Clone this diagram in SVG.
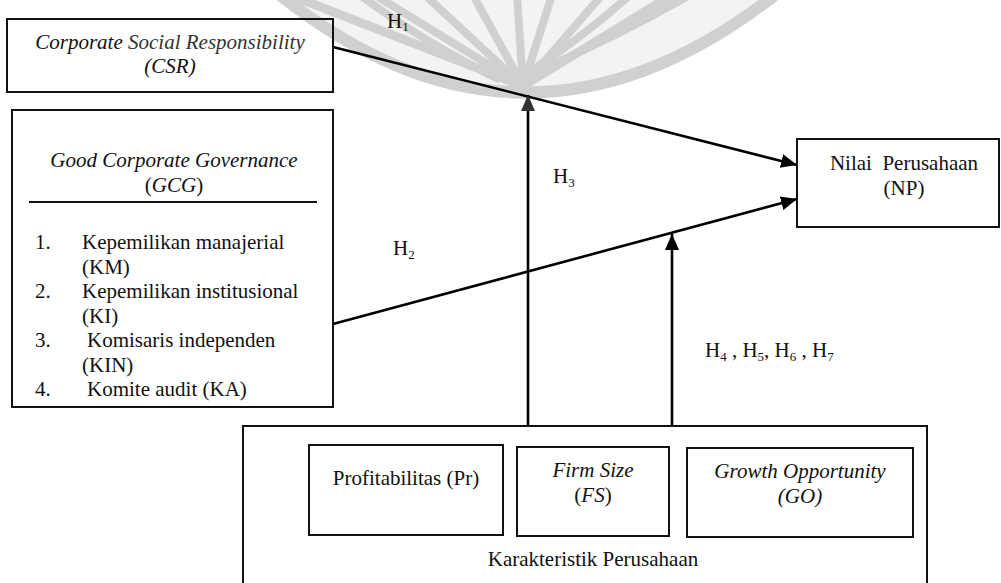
<svg xmlns="http://www.w3.org/2000/svg" width="1001" height="583" viewBox="0 0 1001 583">
  <style>
    text { font-family: "Liberation Serif", serif; font-size: 21px; fill: #111; }
    .it { font-style: italic; }
    .mid { text-anchor: middle; }
    .box { fill: none; stroke: #111; stroke-width: 2; }
    .conn { fill: none; stroke: #000; stroke-width: 2.6; }
    .wm { fill: none; stroke: #d0d0d0; stroke-linecap: butt; }
    .sub { font-size: 13px; }
  </style>
  <defs>
    <marker id="arrow" markerUnits="userSpaceOnUse" markerWidth="18" markerHeight="16" refX="16" refY="7" orient="auto">
      <path d="M0,0 L16,7 L0,14 z" fill="#000"/>
    </marker>
    <marker id="arrowGray" markerUnits="userSpaceOnUse" markerWidth="18" markerHeight="16" refX="16" refY="7" orient="auto">
      <path d="M0,0 L16,7 L0,14 z" fill="#333"/>
    </marker>
  </defs>
  <rect width="1001" height="583" fill="#fff"/>

  <g id="watermark">
    <path d="M 280 -5 Q 525 190 775 -5 Z" fill="#f3f3f3"/>
    <path class="wm" stroke-width="12" d="M 280 -5 Q 525 190 775 -5"/>
    <path class="wm" stroke-width="9" d="M 523 86 L 290 -5"/>
    <path class="wm" stroke-width="8" d="M 523 86 L 375 -5"/>
    <path class="wm" stroke-width="8" d="M 523 86 L 425 -5"/>
    <path class="wm" stroke-width="8" d="M 523 86 L 473 -5"/>
    <path class="wm" stroke-width="8" d="M 523 86 L 517 -5"/>
    <path class="wm" stroke-width="8" d="M 523 86 L 552 -5"/>
    <path class="wm" stroke-width="8" d="M 523 86 L 602 -5"/>
    <path class="wm" stroke-width="9" d="M 523 86 L 672 -5"/>
    <path class="wm" stroke-width="8" d="M 520 78 Q 580 40 630 -5"/>
    <path class="wm" stroke-width="8" d="M 540 70 Q 620 35 690 -5"/>
    <path class="wm" stroke-width="8" d="M 500 80 Q 420 40 360 -5"/>
  </g>

  <g id="connectors">
    <line class="conn" x1="333" y1="47" x2="797" y2="165" marker-end="url(#arrow)"/>
    <line class="conn" x1="333" y1="324" x2="797" y2="199" marker-end="url(#arrow)"/>
    <line class="conn" x1="528" y1="426" x2="528" y2="95" marker-end="url(#arrowGray)"/>
    <line class="conn" x1="672" y1="426" x2="672" y2="234" marker-end="url(#arrow)"/>
    <text x="387" y="28">H<tspan class="sub" dy="3">1</tspan></text>
    <text x="393" y="255">H<tspan class="sub" dy="4">2</tspan></text>
    <text x="553" y="183">H<tspan class="sub" dy="4">3</tspan></text>
    <text x="705" y="357" style="white-space:pre">H<tspan class="sub" dy="4">4</tspan><tspan dy="-4"> , H</tspan><tspan class="sub" dy="4">5</tspan><tspan dy="-4">, H</tspan><tspan class="sub" dy="4">6</tspan><tspan dy="-4"> , H</tspan><tspan class="sub" dy="4">7</tspan></text>
  </g>

  <g id="csr">
    <rect class="box" x="7" y="19" width="326" height="73"/>
    <text class="mid it" x="170" y="49"><tspan>Corporate</tspan><tspan fill="#333"> Social Responsibility</tspan></text>
    <text class="mid it" x="170" y="73" fill="#333">(CSR)</text>
  </g>

  <g id="gcg">
    <rect class="box" x="12" y="110" width="321" height="297"/>
    <text class="mid it" x="174" y="167">Good Corporate Governance</text>
    <text class="mid" x="174" y="192">(<tspan class="it">GCG</tspan>)</text>
    <line x1="29" y1="202" x2="317" y2="202" stroke="#111" stroke-width="2"/>
    <text x="35" y="249">1.</text>
    <text x="82" y="249">Kepemilikan manajerial</text>
    <text x="82" y="273.5">(KM)</text>
    <text x="35" y="298">2.</text>
    <text x="82" y="298">Kepemilikan institusional</text>
    <text x="82" y="322.5">(KI)</text>
    <text x="35" y="347">3.</text>
    <text x="87" y="347">Komisaris independen</text>
    <text x="82" y="371.5">(KIN)</text>
    <text x="35" y="396">4.</text>
    <text x="87" y="396">Komite audit (KA)</text>
  </g>

  <g id="np">
    <rect class="box" x="797" y="139" width="202" height="88"/>
    <text class="mid" x="904" y="170" style="white-space:pre">Nilai  Perusahaan</text>
    <text class="mid" x="904" y="195">(NP)</text>
  </g>

  <g id="karakteristik">
    <rect class="box" x="243" y="426" width="684" height="180"/>
    <text class="mid" x="593" y="566">Karakteristik Perusahaan</text>
  </g>

  <g id="profitabilitas">
    <rect class="box" x="309" y="445" width="194" height="90"/>
    <text class="mid" x="406" y="485">Profitabilitas (Pr)</text>
  </g>

  <g id="firmsize">
    <rect class="box" x="517" y="447" width="152" height="89"/>
    <text class="mid it" x="593" y="477">Firm Size</text>
    <text class="mid" x="593" y="502">(<tspan class="it">FS</tspan>)</text>
  </g>

  <g id="growth">
    <rect class="box" x="687" y="448" width="226" height="89"/>
    <text class="mid it" x="800" y="478">Growth Opportunity</text>
    <text class="mid it" x="800" y="503">(GO)</text>
  </g>
</svg>
